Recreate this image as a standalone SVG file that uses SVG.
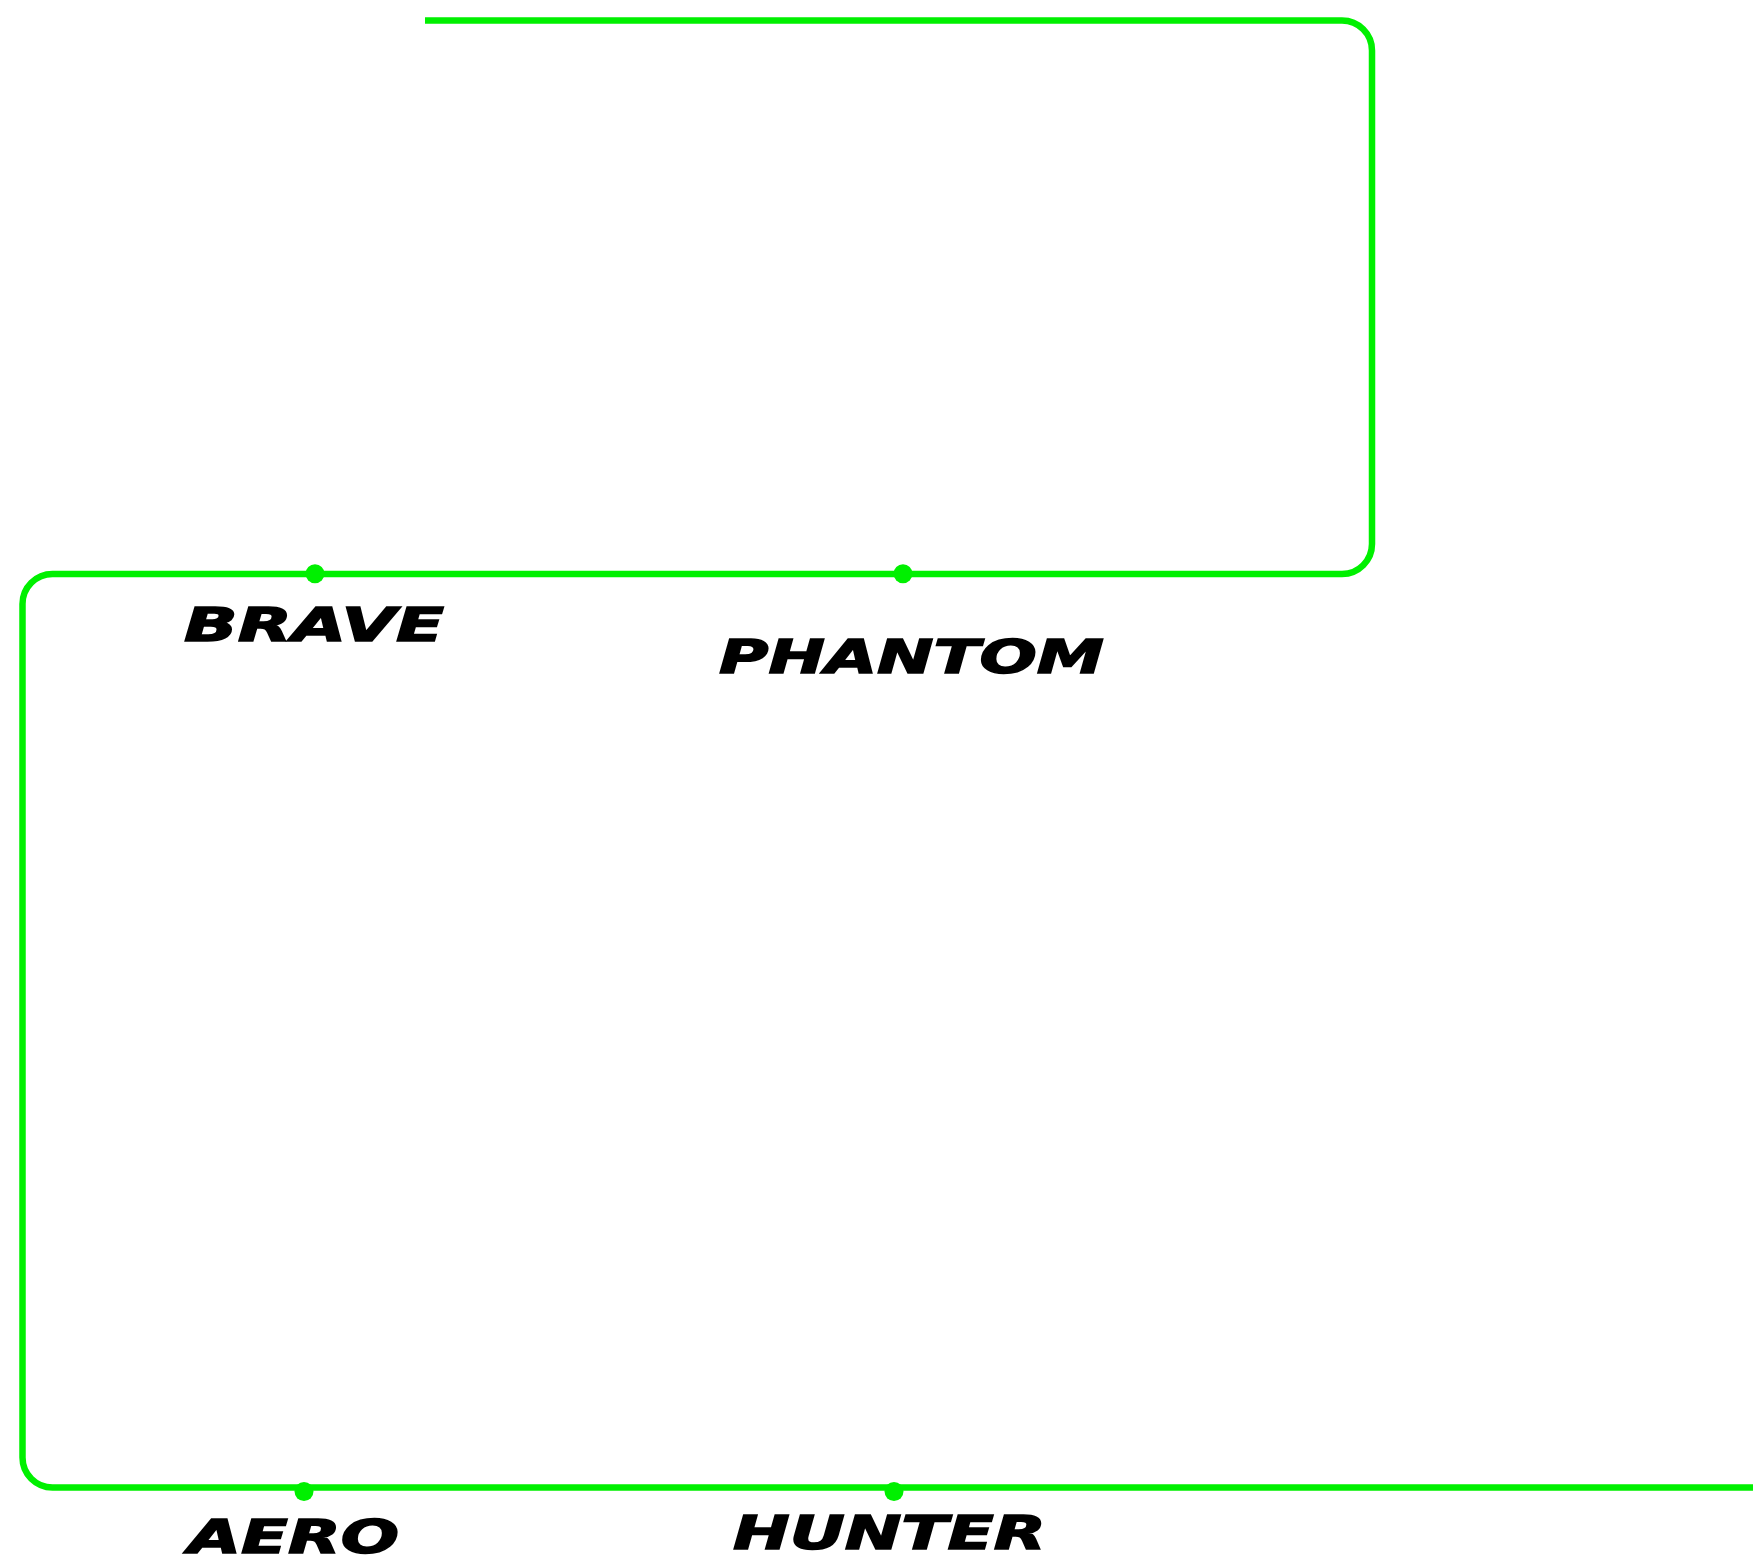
<svg xmlns="http://www.w3.org/2000/svg" width="1753" height="1559" viewBox="0 0 1753 1559">
<style>
.line{fill:none;stroke:#00f000;stroke-width:6.5}
.dot{fill:#00f000}
.lbl{font-family:"DejaVu Sans","Liberation Sans",sans-serif;font-weight:bold;font-style:italic;font-size:47px;fill:#000;stroke:#000;stroke-width:1.5}
</style>
<rect width="1753" height="1559" fill="#fff"/>
<g id="connectors">
<path class="line" d="M425,20.5 H1342 A30,30 0 0 1 1372,50.5 V544 A30,30 0 0 1 1342,574 H52.5 A30,30 0 0 0 22.5,604 V1457.5 A30,30 0 0 0 52.5,1487.5 H1753"/>
</g>
<g id="brave">
<circle class="dot" cx="315" cy="573.7" r="9.5"/>
<text class="lbl" x="184" y="641" textLength="260" lengthAdjust="spacingAndGlyphs">BRAVE</text>
</g>
<g id="phantom">
<circle class="dot" cx="903" cy="573.7" r="9.5"/>
<text class="lbl" x="719" y="673" textLength="385" lengthAdjust="spacingAndGlyphs">PHANTOM</text>
</g>
<g id="aero">
<circle class="dot" cx="304" cy="1491.5" r="9.5"/>
<text class="lbl" x="188" y="1553" textLength="211" lengthAdjust="spacingAndGlyphs">AERO</text>
</g>
<g id="hunter">
<circle class="dot" cx="894" cy="1491.5" r="9.5"/>
<text class="lbl" x="733" y="1549" textLength="313" lengthAdjust="spacingAndGlyphs">HUNTER</text>
</g>
</svg>
